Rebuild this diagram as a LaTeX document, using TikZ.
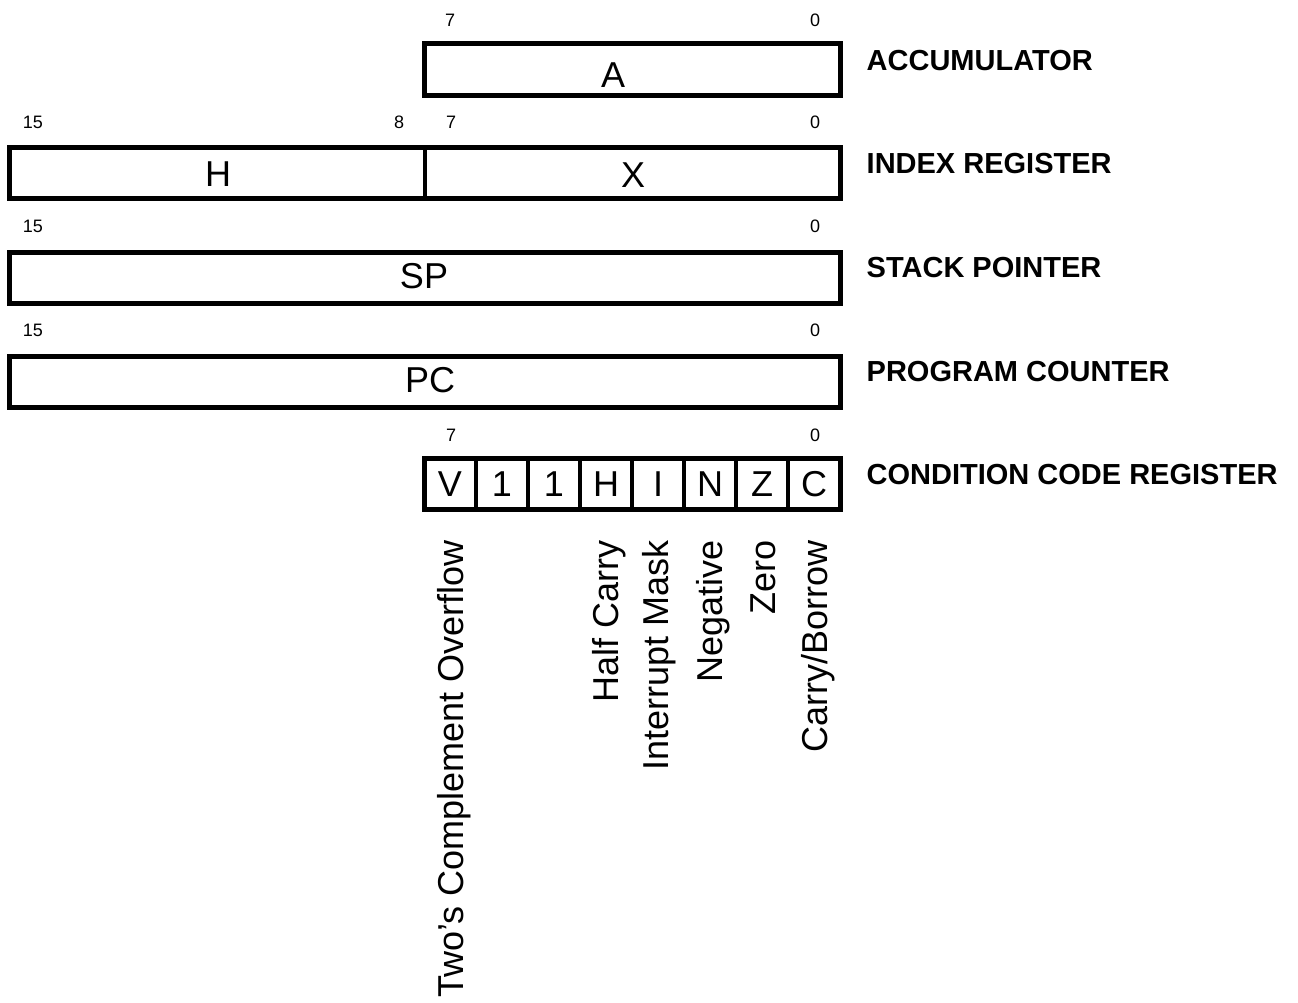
\documentclass[tikz,border=0pt]{standalone}
\usepackage{fontspec}
\setmainfont{Liberation Sans}
\begin{document}
\begin{tikzpicture}[x=1pt,y=-1pt,
  reg/.style={line width=5pt},
  div/.style={line width=4pt},
  bitnum/.style={inner sep=0pt, anchor=base, font=\fontsize{18}{20}\selectfont},
  field/.style={inner sep=0pt, anchor=base, font=\fontsize{36}{40}\selectfont},
  regname/.style={inner sep=0pt, anchor=base west, font=\fontsize{29}{32}\selectfont\bfseries},
  flag/.style={inner sep=0pt, anchor=base east, rotate=90, font=\fontsize{36}{40}\selectfont}]
\useasboundingbox (0,0) rectangle (1298,1003);

% Accumulator
\draw[reg] (424.5,44) rectangle (840,96);
\node[bitnum] (a7) at (450,27) {7};
\node[bitnum] (a0) at (815,27) {0};
\node[field] (fa) at (613,88) {A};
\node[regname] (nacc) at (866.5,70.5) {ACCUMULATOR};

% Index register
\draw[reg] (9,147.5) rectangle (840,198.5);
\draw[div] (424.5,147.5) -- (424.5,198.5);
\node[bitnum] (i15) at (33,129) {15};
\node[bitnum] (i8) at (399,129) {8};
\node[bitnum] (i7) at (451,129) {7};
\node[bitnum] (i0) at (815,129) {0};
\node[field] (fh) at (218,187) {H};
\node[field] (fx) at (633,188) {X};
\node[regname] (nidx) at (866.5,174) {INDEX REGISTER};

% Stack pointer
\draw[reg] (9,252) rectangle (840,303);
\node[bitnum] (s15) at (33,233) {15};
\node[bitnum] (s0) at (815,233) {0};
\node[field] (fsp) at (424,288) {SP};
\node[regname] (nsp) at (866.5,277) {STACK POINTER};

% Program counter
\draw[reg] (9,356) rectangle (840,407);
\node[bitnum] (p15) at (33,336) {15};
\node[bitnum] (p0) at (815,336) {0};
\node[field] (fpc) at (430,392) {PC};
\node[regname] (npc) at (866.5,381) {PROGRAM COUNTER};

% Condition code register
\draw[reg] (424.5,458.5) rectangle (840,509.5);
\foreach \x in {476,528,580,632,684,736,788}
  \draw[div] (\x,458.5) -- (\x,509.5);
\node[bitnum] (c7) at (451,441) {7};
\node[bitnum] (c0) at (815,441) {0};
\node[field] (cv) at (450,496) {V};
\node[field] (c1a) at (502,496) {1};
\node[field] (c1b) at (554,496) {1};
\node[field] (ch) at (606,496) {H};
\node[field] (ci) at (658,496) {I};
\node[field] (cn) at (710,496) {N};
\node[field] (cz) at (762,496) {Z};
\node[field] (cc) at (814,496) {C};
\node[regname] (nccr) at (866.5,484) {CONDITION CODE REGISTER};

% Flag descriptions
\node[flag] (dv) at (463,540) {Two’s Complement Overflow};
\node[flag] (dh) at (618,540) {Half Carry};
\node[flag] (di) at (668,540) {Interrupt Mask};
\node[flag] (dn) at (722,540) {Negative};
\node[flag] (dz) at (775,540) {Zero};
\node[flag] (dc) at (827,540) {Carry/Borrow};
\end{tikzpicture}
\end{document}
